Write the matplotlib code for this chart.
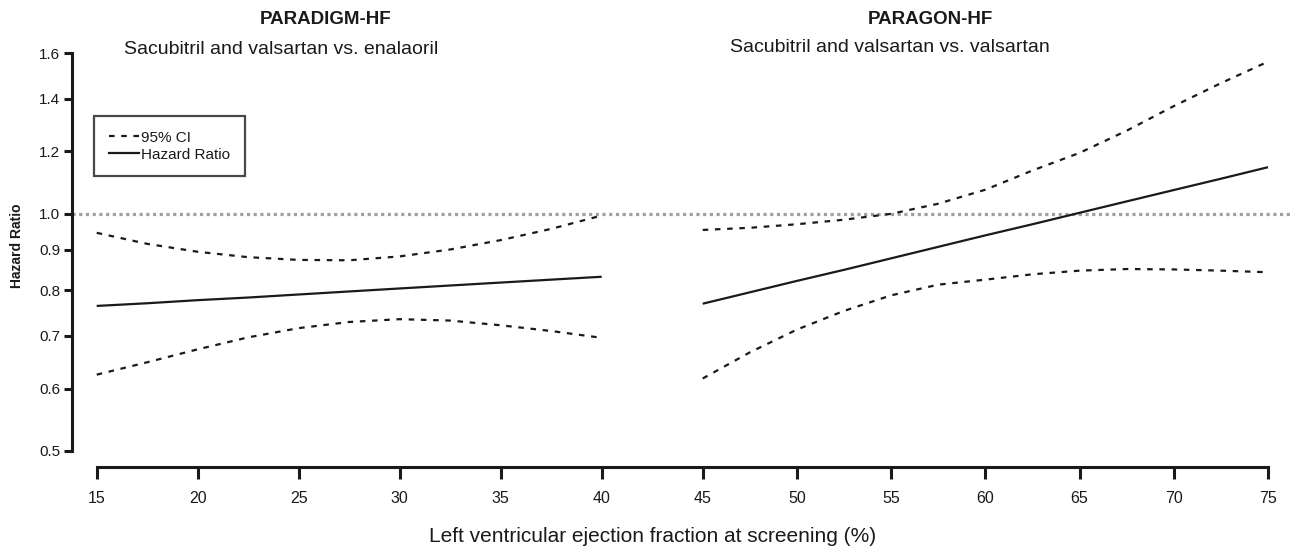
import numpy as np
import matplotlib
matplotlib.use("Agg")
import matplotlib.pyplot as plt
from matplotlib.lines import Line2D

plt.rcParams['font.family'] = ['Liberation Sans', 'DejaVu Sans']

# PARADIGM-HF (sacubitril/valsartan vs enalapril)
lvef_a = [15, 17.5, 20, 22.5, 25, 27.5, 30, 32.5, 35, 37.5, 40]
hr_a = [0.764, 0.770, 0.777, 0.783, 0.790, 0.797, 0.804, 0.811, 0.818, 0.825, 0.832]
upper_a = [0.946, 0.916, 0.895, 0.881, 0.874, 0.873, 0.883, 0.901, 0.926, 0.957, 0.995]
lower_a = [0.625, 0.648, 0.673, 0.697, 0.716, 0.729, 0.735, 0.732, 0.722, 0.710, 0.696]

# PARAGON-HF (sacubitril/valsartan vs valsartan)
lvef_b = [45, 47.5, 50, 52.5, 55, 57.5, 60, 62.5, 65, 67.5, 70, 72.5, 75]
hr_b = [0.769, 0.795, 0.822, 0.849, 0.878, 0.908, 0.939, 0.970, 1.003, 1.037, 1.072, 1.108, 1.146]
upper_b = [0.954, 0.960, 0.970, 0.983, 1.000, 1.030, 1.073, 1.135, 1.195, 1.275, 1.370, 1.465, 1.560]
lower_b = [0.618, 0.667, 0.713, 0.753, 0.788, 0.813, 0.825, 0.838, 0.847, 0.851, 0.850, 0.847, 0.843]

x_ticks = [15, 20, 25, 30, 35, 40, 45, 50, 55, 60, 65, 70, 75]
y_ticks = [0.5, 0.6, 0.7, 0.8, 0.9, 1.0, 1.2, 1.4, 1.6]

titles = ["PARADIGM-HF", "PARAGON-HF"]
subtitles = ["Sacubitril and valsartan vs. enalaoril",
             "Sacubitril and valsartan vs. valsartan"]

W, H = 1292, 550
fig = plt.figure(figsize=(W / 100, H / 100), dpi=100)
ax = fig.add_axes([72 / W, (H - 451) / H, (W - 72) / W, 398 / H])

# the two trial panels were pasted together, so the x spacing differs a bit
kv = [0, 15, 45, 75, 100]
kp = [96.7 - 15 * 20.2, 96.7, 702.7, 1268, 1268 + 25 * 18.84]
fwd = lambda x: np.interp(x, kv, kp)
inv = lambda p: np.interp(p, kp, kv)
ax.set_xscale('function', functions=(fwd, inv))
ax.set_yscale('log')

ink = '#1a1a1a'
ci_style = (0, (2.5, 3))

ax.axhline(1.0, color='#a0a0a0', lw=2.3, ls=(0, (1, 1.1)), zorder=1)

for xs, hr, up, lo in [(lvef_a, hr_a, upper_a, lower_a), (lvef_b, hr_b, upper_b, lower_b)]:
    ax.plot(xs, hr, color=ink, lw=1.6, solid_capstyle='butt', zorder=3)
    ax.plot(xs, up, color=ink, lw=1.6, ls=ci_style, zorder=3)
    ax.plot(xs, lo, color=ink, lw=1.6, ls=ci_style, zorder=3)

ax.set_xlim(inv(72), inv(1292))
ax.set_ylim(0.5, 1.6)

ax.set_yticks(y_ticks)
ax.set_yticklabels([f"{v:.1f}" for v in y_ticks])
ax.yaxis.set_minor_locator(matplotlib.ticker.NullLocator())
ax.set_xticks(x_ticks)
ax.set_xticklabels([str(v) for v in x_ticks])
ax.xaxis.set_minor_locator(matplotlib.ticker.NullLocator())

for s in ['top', 'right']:
    ax.spines[s].set_visible(False)
ax.spines['left'].set_bounds(0.5, 1.6)
ax.spines['left'].set_linewidth(2.2)
ax.spines['left'].set_color(ink)
ax.spines['bottom'].set_bounds(15, 75)
ax.spines['bottom'].set_position(('outward', 11.3))
ax.spines['bottom'].set_linewidth(2.2)
ax.spines['bottom'].set_color(ink)

ax.tick_params(axis='y', length=6, width=2.2, pad=2.4, labelsize=11, colors=ink)
ax.tick_params(axis='x', length=8.6, width=2.2, pad=9, labelsize=11.5, colors=ink)

ax.set_ylabel("Hazard Ratio", fontsize=10, fontweight='bold', color=ink)
ax.yaxis.set_label_coords((24 - 72) / (W - 72), 0.516)

handles = [Line2D([], [], color=ink, lw=1.6, ls=ci_style),
           Line2D([], [], color=ink, lw=1.6)]
leg = ax.legend(handles, ["95% CI", "Hazard Ratio"], loc='upper left',
                bbox_to_anchor=(94 / W, 1 - 116 / H), bbox_transform=fig.transFigure,
                fontsize=11, frameon=True, fancybox=False, borderaxespad=0,
                handlelength=2.0, handletextpad=0.15, labelspacing=0.2,
                borderpad=0.95)
leg.get_frame().set_edgecolor(ink)
leg.get_frame().set_linewidth(1.6)
for t in leg.get_texts():
    t.set_color(ink)

fig.text(326 / W, 1 - 19 / H, titles[0], ha='center', va='center',
         fontsize=13.5, fontweight='bold', color=ink)
fig.text(281.5 / W, 1 - 49 / H, subtitles[0], ha='center', va='center',
         fontsize=14, color=ink)
fig.text(930 / W, 1 - 19 / H, titles[1], ha='center', va='center',
         fontsize=13.5, fontweight='bold', color=ink)
fig.text(890 / W, 1 - 48 / H, subtitles[1], ha='center', va='center',
         fontsize=14, color=ink)

fig.text(653 / W, 1 - 537 / H, "Left ventricular ejection fraction at screening (%)",
         ha='center', va='center', fontsize=15, color=ink)

fig.savefig("out.png", dpi=100)
